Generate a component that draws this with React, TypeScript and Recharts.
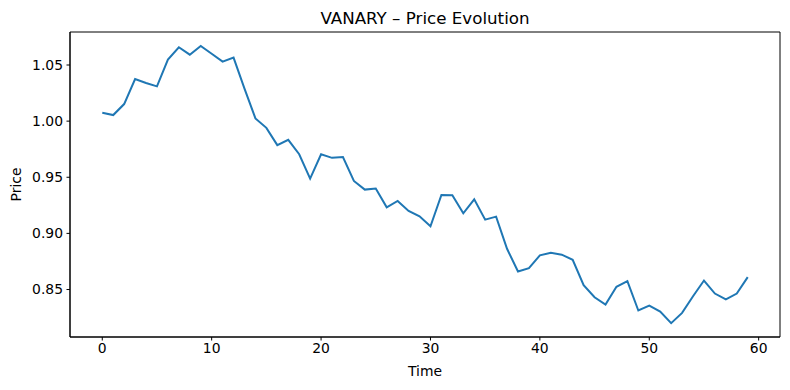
import React from 'react';
import { LineChart, Line, XAxis, YAxis, ReferenceArea } from 'recharts';

// Price series (index 0..59)
const prices = [
  1.0074, 1.0054, 1.0152, 1.0375, 1.034, 1.031, 1.0548, 1.0658, 1.0592, 1.067,
  1.06, 1.053, 1.0566, 1.029, 1.0024, 0.994, 0.9786, 0.9833, 0.9705, 0.9488,
  0.9705, 0.9673, 0.968, 0.9467, 0.939, 0.94, 0.9232, 0.9289, 0.92, 0.9152,
  0.9063, 0.9342, 0.934, 0.9179, 0.9304, 0.9122, 0.9149, 0.8863, 0.866, 0.869,
  0.8804, 0.8827, 0.881, 0.8765, 0.8539, 0.8431, 0.8366, 0.8524, 0.8574, 0.8313,
  0.8357, 0.8304, 0.82, 0.8292, 0.844, 0.858, 0.8464, 0.8413, 0.8464, 0.861,
];

const xTicks = [0, 10, 20, 30, 40, 50, 60];
const yTicks = [0.85, 0.9, 0.95, 1.0, 1.05];

const data = prices.map((price, time) => ({ time, price }));

const FONT = '"DejaVu Sans", sans-serif';
const X_DOMAIN: [number, number] = [-2.95, 61.95];
const Y_DOMAIN: [number, number] = [0.8077, 1.0794];

const tickStyle = { fill: '#000', fontSize: 13.9, fontFamily: FONT };

export default function App() {
  return (
    <div style={{ position: 'absolute', left: 0, top: 0, width: 790, height: 390, background: '#fff' }}>
      <LineChart
        width={790}
        height={390}
        data={data}
        margin={{ top: 32, right: 10, bottom: 0, left: 0 }}
      >
        <XAxis
          dataKey="time"
          type="number"
          domain={X_DOMAIN}
          ticks={xTicks}
          allowDataOverflow
          height={53}
          tickSize={3.5}
          tickMargin={3}
          stroke="#000"
          tick={tickStyle}
        />
        <YAxis
          type="number"
          domain={Y_DOMAIN}
          ticks={yTicks}
          allowDataOverflow
          width={70}
          tickSize={3.5}
          tickMargin={3.5}
          stroke="#000"
          tick={tickStyle}
          tickFormatter={(v: number) => v.toFixed(2)}
        />
        <ReferenceArea
          x1={X_DOMAIN[0]}
          x2={X_DOMAIN[1]}
          y1={Y_DOMAIN[0]}
          y2={Y_DOMAIN[1]}
          fill="none"
          fillOpacity={0}
          stroke="#000"
          strokeWidth={1}
        />
        <Line
          type="linear"
          dataKey="price"
          stroke="#1f77b4"
          strokeWidth={2}
          dot={false}
          isAnimationActive={false}
        />
      </LineChart>
      <svg
        width={790}
        height={390}
        style={{ position: 'absolute', left: 0, top: 0, pointerEvents: 'none' }}
      >
        <text x={425} y={24} textAnchor="middle" fontFamily={FONT} fontSize={16.7} fill="#000">
          VANARY – Price Evolution
        </text>
        <text x={425} y={376} textAnchor="middle" fontFamily={FONT} fontSize={13.9} fill="#000">
          Time
        </text>
        <text
          x={0}
          y={0}
          transform="translate(21,184.5) rotate(-90)"
          textAnchor="middle"
          fontFamily={FONT}
          fontSize={13.9}
          fill="#000"
        >
          Price
        </text>
      </svg>
    </div>
  );
}
